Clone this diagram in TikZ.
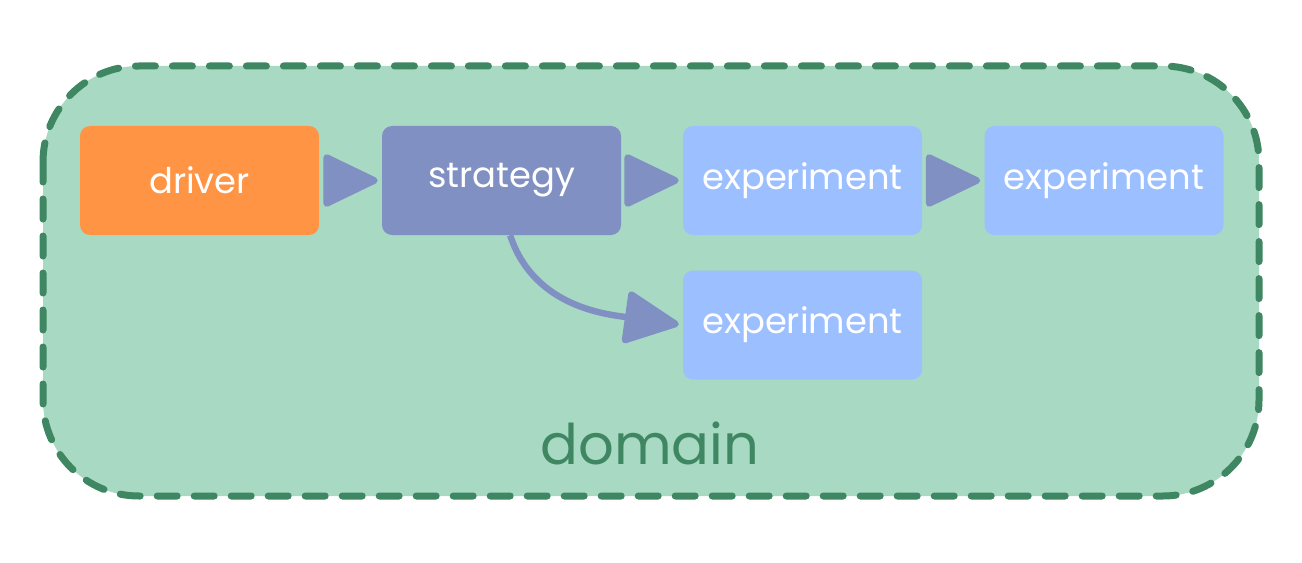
\documentclass[tikz,border=0pt]{standalone}
\usepackage{fontspec}
\setmainfont{Poppins}
\usetikzlibrary{arrows.meta}
\definecolor{domfill}{HTML}{A8D9C2}
\definecolor{domline}{HTML}{3F8763}
\definecolor{drvfill}{HTML}{FF9445}
\definecolor{strfill}{HTML}{8190C2}
\definecolor{expfill}{HTML}{9BBFFF}
\tikzset{
  x=0.75pt, y=-0.75pt,
  box/.style={rounded corners=7.5pt, inner sep=0pt, minimum width=179.25pt, minimum height=81.75pt,
    text=white, font=\fontsize{26.5}{30}\selectfont},
  conn/.style={strfill, line width=4.8pt,
    -{Triangle[round, length=44pt, width=41pt]}, shorten <=7pt, shorten >=3pt},
}
\begin{document}
\begin{tikzpicture}
\useasboundingbox (0,0) rectangle (1302,563);
\draw[domline, fill=domfill, line width=5.25pt, line cap=round, dash pattern=on 15pt off 12.75pt, rounded corners=72pt]
  (43,66) rectangle (1259,496);
\node[domline, font=\fontsize{42}{46}\selectfont] (dom) at (650,443) {domain};
\node[box, fill=drvfill] (driver) at (199.5,180.5) {driver};
\node[box, fill=strfill] (strategy) at (501.5,180.5) {strategy};
\node[box, fill=expfill] (exp1) at (802.5,180.5) {experiment};
\node[box, fill=expfill] (exp2) at (1104,180.5) {experiment};
\node[box, fill=expfill] (exp3) at (802.5,325) {experiment};
\draw[conn] (driver.east) -- (strategy.west);
\draw[conn] (strategy.east) -- (exp1.west);
\draw[conn] (exp1.east) -- (exp2.west);
\draw[conn, shorten <=0pt] ([xshift=6.5pt]strategy.south) to[out=-72, in=172] (exp3.west);
\end{tikzpicture}
\end{document}
